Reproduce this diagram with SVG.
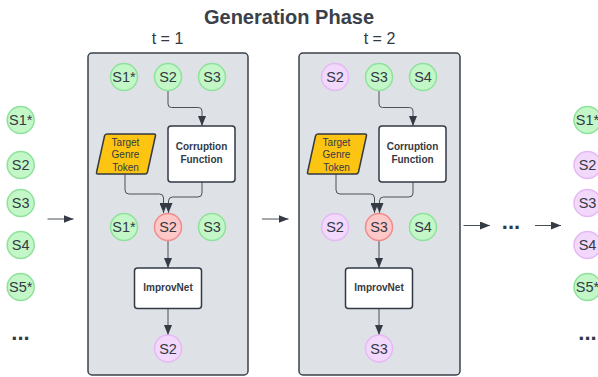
<svg xmlns="http://www.w3.org/2000/svg" width="598" height="377" viewBox="0 0 598 377">
<defs>
<marker id="ah" viewBox="0 0 10 8" refX="10" refY="4" markerWidth="10" markerHeight="8" markerUnits="userSpaceOnUse" orient="auto"><path d="M0,0 L10,4 L0,8 Z" fill="#343b45"/></marker>
<style>
text{font-family:"Liberation Sans",Arial,sans-serif;fill:#333a44}
.panel{fill:#dee1e6;stroke:#3a414a;stroke-width:1.5}
.g{fill:#c3f7c8;stroke:#8ee29b;stroke-width:1.5}
.r{fill:#ffc8c8;stroke:#f08b8b;stroke-width:1.5}
.p{fill:#f2d8fb;stroke:#e5b9f5;stroke-width:1.5}
.ct{font-size:14.5px;text-anchor:middle;dominant-baseline:central}
.box{fill:#ffffff;stroke:#333a44;stroke-width:1.5}
.bt{font-size:10px;font-weight:bold;text-anchor:middle}
.tok{fill:#fdc411;stroke:#333a44;stroke-width:1.5}
.tt{font-size:10px;text-anchor:middle}
.c{fill:none;stroke:#4a5059;stroke-width:1;marker-end:url(#ah)}
.dots{font-size:22px;font-weight:bold;text-anchor:middle}
</style>
</defs>
<text x="289" y="23.5" style="font-size:20px;font-weight:bold;text-anchor:middle;fill:#3a414a">Generation Phase</text>
<text x="167.5" y="43.5" style="font-size:16px;text-anchor:middle">t = 1</text>
<text x="379.5" y="43.5" style="font-size:16px;text-anchor:middle">t = 2</text>

<g id="panel1"><rect class="panel" x="88" y="53" width="160" height="322" rx="4"/></g>
<g id="panel2"><rect class="panel" x="299" y="53" width="161" height="322" rx="4"/></g>

<g id="connectors">
<path class="c" d="M47.5,219 H73.5"/>
<path class="c" d="M262,219 H288.5"/>
<path class="c" d="M463.5,225.5 H490"/>
<path class="c" d="M535,225.5 H561"/>
<path class="c" d="M168,90.5 V104 Q168,107.5 171.5,107.5 H198.5 Q202,107.5 202,111 V126"/>
<path class="c" d="M125,174 V190 Q125,194 129,194 H159.5 Q163.5,194 163.5,198 V213"/>
<path class="c" d="M202,182 V193 Q202,197 198,197 H172.5 Q168.5,197 168.5,201 V213"/>
<path class="c" d="M168,240.5 V268"/>
<path class="c" d="M168,308.5 V335"/>
<path class="c" d="M379,90.5 V104 Q379,107.5 382.5,107.5 H409.5 Q413,107.5 413,111 V126"/>
<path class="c" d="M336,174 V190 Q336,194 340,194 H370.5 Q374.5,194 374.5,198 V213"/>
<path class="c" d="M413,182 V193 Q413,197 409,197 H383.5 Q379.5,197 379.5,201 V213"/>
<path class="c" d="M379,240.5 V268"/>
<path class="c" d="M379,308.5 V335"/>
</g>

<g id="left-S1"><circle class="g" cx="20.7" cy="120" r="13.5"/><text class="ct" x="20.7" y="120">S1*</text></g>
<g id="left-S2"><circle class="g" cx="20.7" cy="165" r="13.5"/><text class="ct" x="20.7" y="165">S2</text></g>
<g id="left-S3"><circle class="g" cx="20.7" cy="203" r="13.5"/><text class="ct" x="20.7" y="203">S3</text></g>
<g id="left-S4"><circle class="g" cx="20.7" cy="245" r="13.5"/><text class="ct" x="20.7" y="245">S4</text></g>
<g id="left-S5"><circle class="g" cx="20.7" cy="287" r="13.5"/><text class="ct" x="20.7" y="287">S5*</text></g>
<g id="left-dots"><text class="dots" x="20.5" y="340">...</text></g>

<g id="p1-top-S1"><circle class="g" cx="124" cy="77" r="13.5"/><text class="ct" x="124" y="77">S1*</text></g>
<g id="p1-top-S2"><circle class="g" cx="168" cy="77" r="13.5"/><text class="ct" x="168" y="77">S2</text></g>
<g id="p1-top-S3"><circle class="g" cx="212" cy="77" r="13.5"/><text class="ct" x="212" y="77">S3</text></g>
<g id="p1-token"><path class="tok" d="M107,134 H154 Q156,134 155.4,136 L147.5,172 Q147,174 145,174 H98 Q96,174 96.6,172 L104.5,136 Q105,134 107,134 Z"/><text class="tt" x="125.5" y="145.5">Target</text><text class="tt" x="125.5" y="158">Genre</text><text class="tt" x="125.5" y="170.5">Token</text></g>
<g id="p1-corrupt"><rect class="box" x="168" y="126" width="67" height="56" rx="3"/><text class="bt" x="201.5" y="150">Corruption</text><text class="bt" x="201.5" y="162.5">Function</text></g>
<g id="p1-mid-S1"><circle class="g" cx="124" cy="227" r="13.5"/><text class="ct" x="124" y="227">S1*</text></g>
<g id="p1-mid-S2"><circle class="r" cx="168" cy="227" r="13.5"/><text class="ct" x="168" y="227">S2</text></g>
<g id="p1-mid-S3"><circle class="g" cx="212" cy="227" r="13.5"/><text class="ct" x="212" y="227">S3</text></g>
<g id="p1-improv"><rect class="box" x="134.5" y="268" width="67" height="40.5" rx="3"/><text class="bt" x="168" y="290.5">ImprovNet</text></g>
<g id="p1-out-S2"><circle class="p" cx="168" cy="348.5" r="13.5"/><text class="ct" x="168" y="348.5">S2</text></g>

<g id="p2-top-S2"><circle class="p" cx="335" cy="77" r="13.5"/><text class="ct" x="335" y="77">S2</text></g>
<g id="p2-top-S3"><circle class="g" cx="379" cy="77" r="13.5"/><text class="ct" x="379" y="77">S3</text></g>
<g id="p2-top-S4"><circle class="g" cx="423" cy="77" r="13.5"/><text class="ct" x="423" y="77">S4</text></g>
<g id="p2-token"><path class="tok" d="M318,134 H365 Q367,134 366.4,136 L358.5,172 Q358,174 356,174 H309 Q307,174 307.6,172 L315.5,136 Q316,134 318,134 Z"/><text class="tt" x="336.5" y="145.5">Target</text><text class="tt" x="336.5" y="158">Genre</text><text class="tt" x="336.5" y="170.5">Token</text></g>
<g id="p2-corrupt"><rect class="box" x="379" y="126" width="67" height="56" rx="3"/><text class="bt" x="412.5" y="150">Corruption</text><text class="bt" x="412.5" y="162.5">Function</text></g>
<g id="p2-mid-S2"><circle class="p" cx="335" cy="227" r="13.5"/><text class="ct" x="335" y="227">S2</text></g>
<g id="p2-mid-S3"><circle class="r" cx="379" cy="227" r="13.5"/><text class="ct" x="379" y="227">S3</text></g>
<g id="p2-mid-S4"><circle class="g" cx="423" cy="227" r="13.5"/><text class="ct" x="423" y="227">S4</text></g>
<g id="p2-improv"><rect class="box" x="345.5" y="268" width="67" height="40.5" rx="3"/><text class="bt" x="379" y="290.5">ImprovNet</text></g>
<g id="p2-out-S3"><circle class="p" cx="379" cy="348.5" r="13.5"/><text class="ct" x="379" y="348.5">S3</text></g>

<g id="mid-dots"><text class="dots" x="511" y="229">...</text></g>

<g id="right-S1"><circle class="g" cx="587.5" cy="120" r="13.5"/><text class="ct" x="587.5" y="120">S1*</text></g>
<g id="right-S2"><circle class="p" cx="587.5" cy="165" r="13.5"/><text class="ct" x="587.5" y="165">S2</text></g>
<g id="right-S3"><circle class="p" cx="587.5" cy="203" r="13.5"/><text class="ct" x="587.5" y="203">S3</text></g>
<g id="right-S4"><circle class="p" cx="587.5" cy="245" r="13.5"/><text class="ct" x="587.5" y="245">S4</text></g>
<g id="right-S5"><circle class="g" cx="587.5" cy="287" r="13.5"/><text class="ct" x="587.5" y="287">S5*</text></g>
<g id="right-dots"><text class="dots" x="587.5" y="340">...</text></g>
</svg>
